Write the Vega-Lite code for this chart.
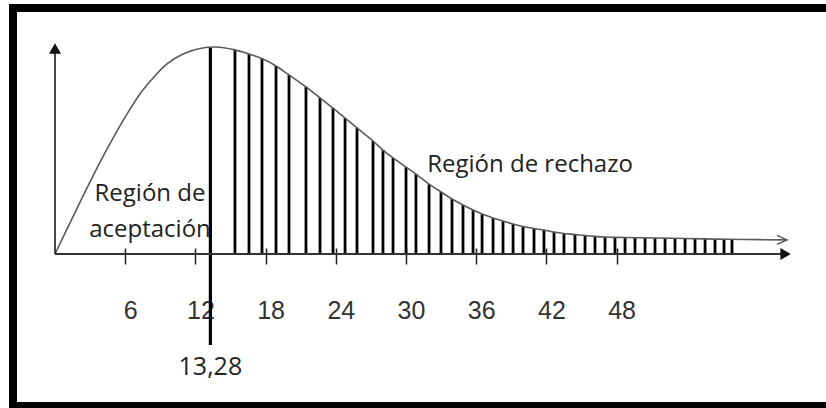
{
  "$schema": "https://vega.github.io/schema/vega-lite/v6.json",
  "autosize": {"type": "none"},
  "width": 823,
  "height": 398,
  "padding": {"left": 13, "top": 8, "right": -10, "bottom": 2},
  "background": "white",
  "config": {"view": {"stroke": "black", "strokeWidth": 8}},
  "datasets": {
    "curve": [
      {"x": 0, "y": 0}, {"x": 1.03, "y": 12.1}, {"x": 2.14, "y": 25.1}, {"x": 2.99, "y": 34.8},
      {"x": 3.85, "y": 44.4}, {"x": 4.96, "y": 56.0}, {"x": 6.15, "y": 67.6}, {"x": 7.26, "y": 77.3},
      {"x": 8.38, "y": 85.0}, {"x": 9.57, "y": 91.8}, {"x": 10.94, "y": 96.6}, {"x": 12.39, "y": 99.3},
      {"x": 13.68, "y": 100}, {"x": 15.38, "y": 98.6}, {"x": 16.58, "y": 96.6}, {"x": 17.69, "y": 94.4},
      {"x": 18.89, "y": 90.8}, {"x": 20.0, "y": 86.5}, {"x": 21.45, "y": 80.7}, {"x": 22.65, "y": 75.4},
      {"x": 23.76, "y": 70.5}, {"x": 24.79, "y": 65.7}, {"x": 25.81, "y": 60.9}, {"x": 27.18, "y": 54.6},
      {"x": 28.03, "y": 50.2}, {"x": 28.89, "y": 46.4}, {"x": 30.0, "y": 42.0}, {"x": 30.94, "y": 38.2},
      {"x": 31.97, "y": 33.8}, {"x": 32.99, "y": 30.0}, {"x": 33.93, "y": 26.6}, {"x": 34.87, "y": 23.7},
      {"x": 35.73, "y": 21.3}, {"x": 36.5, "y": 19.3}, {"x": 37.44, "y": 17.4}, {"x": 38.29, "y": 15.9},
      {"x": 39.15, "y": 14.5}, {"x": 40.0, "y": 13.3}, {"x": 40.94, "y": 12.3}, {"x": 41.79, "y": 11.6},
      {"x": 42.65, "y": 10.6}, {"x": 43.5, "y": 9.9}, {"x": 44.44, "y": 9.4}, {"x": 45.3, "y": 8.9},
      {"x": 46.15, "y": 8.5}, {"x": 47.01, "y": 8.2}, {"x": 48.72, "y": 8.0}, {"x": 51.28, "y": 7.7},
      {"x": 53.85, "y": 7.5}, {"x": 56.41, "y": 7.2}, {"x": 58.97, "y": 7.0}, {"x": 62.56, "y": 6.8}
    ],
    "hatch": [
      {"x": 15.38, "y": 98.6}, {"x": 16.58, "y": 96.6}, {"x": 17.69, "y": 94.4}, {"x": 18.89, "y": 90.8},
      {"x": 20.0, "y": 86.5}, {"x": 21.45, "y": 80.7}, {"x": 22.65, "y": 75.4}, {"x": 23.76, "y": 70.5},
      {"x": 24.79, "y": 65.7}, {"x": 25.81, "y": 60.9}, {"x": 27.18, "y": 54.6}, {"x": 28.03, "y": 50.2},
      {"x": 28.89, "y": 46.4}, {"x": 30.0, "y": 42.0}, {"x": 30.85, "y": 38.6}, {"x": 31.97, "y": 33.8},
      {"x": 32.99, "y": 30.0}, {"x": 33.93, "y": 26.6}, {"x": 34.87, "y": 23.7}, {"x": 35.73, "y": 21.3},
      {"x": 36.5, "y": 19.3}, {"x": 37.44, "y": 17.4}, {"x": 38.29, "y": 15.9}, {"x": 39.15, "y": 14.5},
      {"x": 40.0, "y": 13.3}, {"x": 40.94, "y": 12.3}, {"x": 41.79, "y": 11.6}, {"x": 42.65, "y": 10.6},
      {"x": 43.5, "y": 9.9}, {"x": 44.44, "y": 9.4}, {"x": 45.3, "y": 8.9}, {"x": 46.15, "y": 8.5},
      {"x": 47.01, "y": 8.2}, {"x": 47.86, "y": 8.1}, {"x": 48.72, "y": 8.0}, {"x": 49.57, "y": 7.9},
      {"x": 50.43, "y": 7.8}, {"x": 51.28, "y": 7.7}, {"x": 52.14, "y": 7.7}, {"x": 52.99, "y": 7.6},
      {"x": 53.85, "y": 7.5}, {"x": 54.7, "y": 7.5}, {"x": 55.56, "y": 7.4}, {"x": 56.41, "y": 7.2},
      {"x": 57.18, "y": 7.2}, {"x": 57.86, "y": 7.1}
    ],
    "critical": [{"x": 13.28, "y": 99.8, "y2": -44}],
    "axes": [
      {"x": 0, "y": 0, "x2": 62.1, "y2": 0},
      {"x": 0, "y": 0, "x2": 0, "y2": 98.5}
    ],
    "arrows": [
      {"x": 62.44, "y": 0, "shape": "triangle-right"},
      {"x": 0, "y": 99.3, "shape": "triangle-up"}
    ],
    "curveEnd": [{"x": 62.56, "y": 6.8}],
    "regions": [
      {"x": 8.12, "y": 25.6, "label": "Región de\naceptación"},
      {"x": 40.6, "y": 39.6, "label": "Región de rechazo"}
    ],
    "critLabel": [{"x": 13.28, "y": -58.5, "label": "13,28"}]
  },
  "encoding": {
    "x": {
      "field": "x", "type": "quantitative",
      "scale": {"domain": [-3.59, 66.75], "nice": false, "zero": false},
      "axis": {
        "orient": "bottom", "offset": -158, "domain": false, "grid": false, "title": null,
        "values": [6, 12, 18, 24, 30, 36, 42, 48],
        "tickSize": 16, "tickColor": "#222", "tickWidth": 1.5,
        "labelFont": "Liberation Sans", "labelFontSize": 25, "labelColor": "#333",
        "labelPadding": 54, "labelBaseline": "alphabetic", "labelOffset": 5,
        "labelFlush": false, "labelOverlap": false
      }
    },
    "y": {
      "field": "y", "type": "quantitative",
      "scale": {"domain": [-73.43, 118.84], "nice": false, "zero": false},
      "axis": null
    }
  },
  "layer": [
    {
      "data": {"name": "hatch"},
      "mark": {"type": "rule", "color": "black", "strokeWidth": 2.8},
      "encoding": {"y2": {"datum": 0}}
    },
    {
      "data": {"name": "critical"},
      "mark": {"type": "rule", "color": "black", "strokeWidth": 3.2},
      "encoding": {"y2": {"field": "y2"}}
    },
    {
      "data": {"name": "curve"},
      "mark": {"type": "line", "color": "#5a5a5a", "strokeWidth": 1.6, "interpolate": "monotone"}
    },
    {
      "data": {"name": "axes"},
      "mark": {"type": "rule", "color": "#333", "strokeWidth": 1.8},
      "encoding": {"x2": {"field": "x2"}, "y2": {"field": "y2"}}
    },
    {
      "data": {"name": "arrows"},
      "mark": {"type": "point", "filled": true, "color": "#111", "size": 144, "opacity": 1},
      "encoding": {"shape": {"field": "shape", "type": "nominal", "scale": null, "legend": null}}
    },
    {
      "data": {"name": "curveEnd"},
      "mark": {"type": "point", "filled": false, "shape": "M-1,-0.45L0,0L-1,0.45", "size": 400, "stroke": "#555", "strokeWidth": 1.5, "opacity": 1}
    },
    {
      "data": {"name": "regions"},
      "mark": {"type": "text", "font": "Open Sans", "fontSize": 24, "color": "#222", "align": "center", "baseline": "alphabetic", "lineBreak": "\n", "lineHeight": 36},
      "encoding": {"text": {"field": "label"}}
    },
    {
      "data": {"name": "critLabel"},
      "mark": {"type": "text", "font": "Open Sans", "fontSize": 25, "color": "#222", "align": "center", "baseline": "alphabetic"},
      "encoding": {"text": {"field": "label"}}
    }
  ]
}
